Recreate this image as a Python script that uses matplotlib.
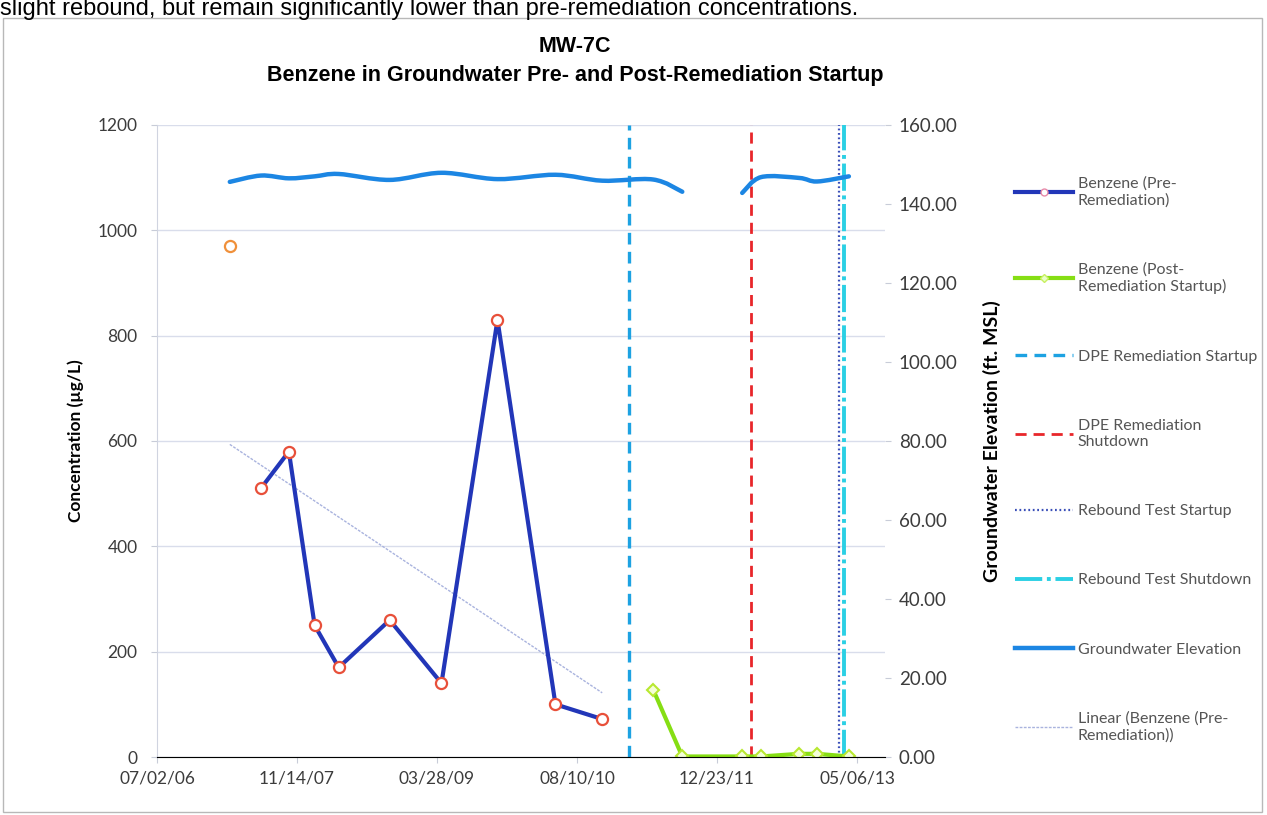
import numpy as np
import pandas as pd
import matplotlib
matplotlib.use("Agg")
import matplotlib.pyplot as plt
import matplotlib.dates as mdates
from matplotlib.path import Path
from matplotlib.patches import PathPatch, Rectangle
from matplotlib.lines import Line2D

# %%
# values
pre_dates = ["2007-03-19", "2007-07-08", "2007-10-16", "2008-01-16", "2008-04-11",
             "2008-10-10", "2009-04-13", "2009-10-30", "2010-05-25", "2010-11-08"]
pre_benzene = [970, 510, 580, 250, 170, 260, 140, 830, 100, 72]

post_dates = ["2011-05-09", "2011-08-21", "2012-03-22", "2012-05-28",
              "2012-10-11", "2012-12-14", "2013-04-07"]
post_benzene = [128, 1, 1, 1, 6, 6, 1]

# groundwater elevation, two runs (gap = missing measurement)
gw_dates_a = ["2007-03-19", "2007-07-08", "2007-10-16", "2008-01-16", "2008-04-11",
              "2008-10-10", "2009-04-13", "2009-10-30", "2010-05-25", "2010-11-08",
              "2011-05-09", "2011-08-21"]
gw_elev_a = [145.6, 147.2, 146.5, 147.0, 147.6, 146.1, 147.9, 146.3, 147.4, 145.9,
             146.2, 143.1]
gw_dates_b = ["2012-03-22", "2012-05-28", "2012-10-11", "2012-12-14", "2013-04-07"]
gw_elev_b = [142.8, 146.8, 146.6, 145.7, 147.0]

event_names = ["DPE Remediation Startup", "DPE Remediation Shutdown",
               "Rebound Test Startup", "Rebound Test Shutdown"]
event_dates = ["2011-02-13", "2012-04-23", "2013-03-03", "2013-03-20"]

x_tick_labels = ["07/02/06", "11/14/07", "03/28/09", "08/10/10", "12/23/11", "05/06/13"]
x_range = ["2006-07-02", "2013-08-14"]

# %%
plt.rcParams['font.family'] = ['Lato', 'DejaVu Sans']

BLUE_PRE = '#2236B8'
GREEN = '#86DE14'
GW = '#1C86E3'
TXT = '#3c3c3c'


def smooth_path(dates, vals):
    # excel-like smoothed line as cubic bezier segments
    pts = np.column_stack([mdates.date2num(pd.to_datetime(dates)), vals])
    n = len(pts)
    verts = [pts[0]]
    codes = [Path.MOVETO]
    for i in range(n - 1):
        p0 = pts[i - 1] if i > 0 else pts[i]
        p1, p2 = pts[i], pts[i + 1]
        p3 = pts[i + 2] if i + 2 < n else pts[i + 1]
        verts += [p1 + (p2 - p0) / 6, p2 - (p3 - p1) / 6, p2]
        codes += [Path.CURVE4] * 3
    return Path(verts, codes)


fig = plt.figure(figsize=(12.67, 8.15), dpi=100)
ax = fig.add_axes([157 / 1267, 1 - 757 / 815, (885 - 157) / 1267, (757 - 125) / 815])
ax2 = ax.twinx()

pre_x = pd.to_datetime(pre_dates)
post_x = pd.to_datetime(post_dates)

# trend line over pre-remediation data
xn = mdates.date2num(pre_x)
k, b = np.polyfit(xn, pre_benzene, 1)
trend_x = np.array([xn.min(), xn.max()])
ax.plot(mdates.num2date(trend_x), k * trend_x + b, color='#A9B3DE', lw=1.0,
        ls=(0, (2, 1)), zorder=2)

# pre-remediation: first sample stands alone
ax.plot(pre_x[1:], pre_benzene[1:], color=BLUE_PRE, lw=3, marker='o', ms=8,
        mfc='white', mec='#E8503A', mew=1.6, zorder=4)
ax.plot(pre_x[:1], pre_benzene[:1], ls='none', marker='o', ms=8,
        mfc='white', mec='#F0903A', mew=1.6, zorder=4)

ax.plot(post_x, post_benzene, color=GREEN, lw=3, marker='D', ms=6.5,
        mfc='#F4FFD8', mec='#B8E830', mew=1.5, zorder=4)

ev = pd.to_datetime(event_dates)
ax.axvline(ev[0], color='#1DA2E2', lw=2.4, dashes=(3.5, 2.2), zorder=3)
ax.axvline(ev[1], color='#E8262A', lw=2.0, dashes=(4, 2.5), zorder=3)
ax.axvline(ev[2], color='#3A4FB8', lw=1.6, dashes=(0.8, 1.2), zorder=3)
ax.axvline(ev[3], color='#2BD0E4', lw=2.8, dashes=(7, 1.2, 1, 1.2), zorder=3)

for d, v in [(gw_dates_a, gw_elev_a), (gw_dates_b, gw_elev_b)]:
    ax2.add_patch(PathPatch(smooth_path(d, v), fill=False, edgecolor=GW, lw=3.2,
                            capstyle='round', zorder=5))

# axes
ax.set_xlim(pd.to_datetime(x_range))
ax.set_ylim(0, 1200)
ax2.set_ylim(0, 160)
ax.set_yticks(np.arange(0, 1201, 200))
ax2.set_yticks(np.arange(0, 161, 20))
ax2.yaxis.set_major_formatter(matplotlib.ticker.FuncFormatter(lambda v, p: f"{v:.2f}"))
ax.set_xticks(pd.to_datetime(x_tick_labels, format="%m/%d/%y"))
ax.set_xticklabels(x_tick_labels)

ax.grid(axis='y', color='#D9DDEB', lw=1)
ax.set_axisbelow(True)
for a in (ax, ax2):
    for s in ('top', 'right', 'left'):
        a.spines[s].set_visible(False)
ax.spines['left'].set_visible(True)
ax.spines['left'].set_color('#D0D4E0')
ax.spines['bottom'].set_color('#D8DCC8')
ax.tick_params(axis='both', colors='#C8CCD8', labelcolor=TXT, labelsize=12.5, length=4)
ax.tick_params(axis='y', pad=10)
ax.tick_params(axis='x', pad=6)
ax2.tick_params(axis='y', colors='#C8CCD8', labelcolor=TXT, labelsize=13.5, length=4, pad=6)

ax.set_ylabel("Concentration (µg/L)", fontsize=12.5, fontweight='bold', color='black', labelpad=10)
ax2.set_ylabel("Groundwater Elevation (ft. MSL)", fontsize=14, fontweight='bold',
               color='black', labelpad=18)

fig.text(575 / 1267, 1 - 47 / 815, "MW-7C", ha='center', va='center', fontsize=15.5,
         fontweight='bold', family='Liberation Sans')
fig.text(575 / 1267, 1 - 75 / 815, "Benzene in Groundwater Pre- and Post-Remediation Startup",
         ha='center', va='center', fontsize=15.5, fontweight='bold', family='Liberation Sans')
fig.text(0.0, 1 - 15 / 815,
         "slight rebound, but remain significantly lower than pre-remediation concentrations.",
         ha='left', va='baseline', fontsize=17, family='Liberation Sans')
fig.patches.append(Rectangle((3 / 1267, 3 / 815), 1259 / 1267, 794 / 815, transform=fig.transFigure,
                             fill=False, edgecolor='#B8B8B8', lw=1))

# legend
handles = [
    Line2D([], [], color=BLUE_PRE, lw=3, marker='o', ms=5, mfc='white', mec='#E88AA8'),
    Line2D([], [], color=GREEN, lw=3, marker='D', ms=4, mfc='#E8FFC8', mec='#C8F060'),
    Line2D([], [], color='#1DA2E2', lw=2.4, dashes=(3.5, 2.2)),
    Line2D([], [], color='#E8262A', lw=2.0, dashes=(4, 2.5)),
    Line2D([], [], color='#3A4FB8', lw=1.6, dashes=(0.8, 1.2)),
    Line2D([], [], color='#2BD0E4', lw=2.8, dashes=(7, 1.2, 1, 1.2)),
    Line2D([], [], color=GW, lw=3.2),
    Line2D([], [], color='#A9B3DE', lw=1.0, ls=(0, (2, 1))),
]
labels = ["Benzene (Pre-\nRemediation)", "Benzene (Post-\nRemediation Startup)",
          event_names[0], "DPE Remediation\nShutdown", event_names[2], event_names[3],
          "Groundwater Elevation", "Linear (Benzene (Pre-\nRemediation))"]
leg = fig.legend(handles, labels, loc='upper left', bbox_to_anchor=(1001 / 1267, 1 - 162 / 815),
                 frameon=False, fontsize=11.5, handlelength=3.6, handletextpad=0.3,
                 labelspacing=3.45, labelcolor='#555555')

fig.savefig("out.png", dpi=100)
